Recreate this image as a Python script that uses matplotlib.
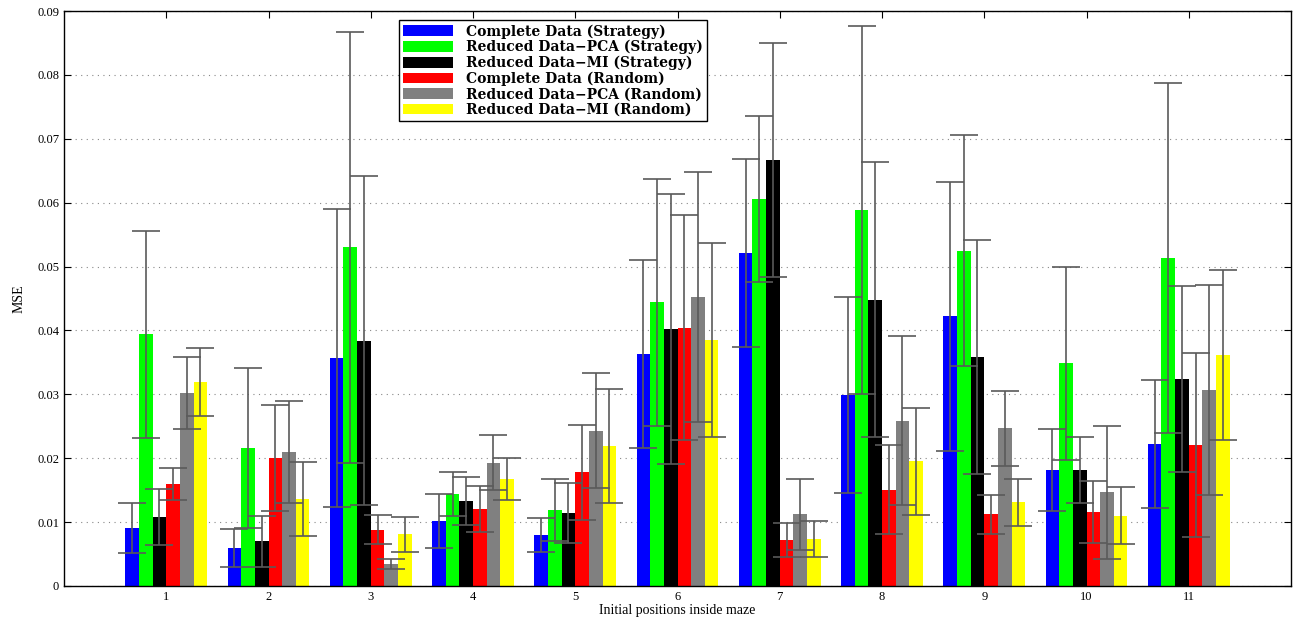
import numpy as np
import matplotlib
matplotlib.use("Agg")
import matplotlib.pyplot as plt

# initial positions (groups)
positions = [1, 2, 3, 4, 5, 6, 7, 8, 9, 10, 11]

series_names = ["Complete Data (Strategy)", "Reduced Data\u2212PCA (Strategy)",
                "Reduced Data\u2212MI (Strategy)", "Complete Data (Random)",
                "Reduced Data\u2212PCA (Random)", "Reduced Data\u2212MI (Random)"]
series_colors = ["#0000ff", "#00ff00", "#000000", "#ff0000", "#808080", "#ffff00"]

# mean MSE per series
complete_strategy = [0.0091, 0.0059, 0.0357, 0.0102, 0.0080, 0.0363, 0.0521, 0.0299, 0.0422, 0.0182, 0.0222]
pca_strategy      = [0.0394, 0.0216, 0.0530, 0.0144, 0.0119, 0.0444, 0.0606, 0.0588, 0.0525, 0.0349, 0.0513]
mi_strategy       = [0.0108, 0.0070, 0.0384, 0.0133, 0.0115, 0.0402, 0.0667, 0.0448, 0.0359, 0.0182, 0.0324]
complete_random   = [0.0160, 0.0200, 0.0088, 0.0120, 0.0178, 0.0404, 0.0072, 0.0151, 0.0112, 0.0116, 0.0221]
pca_random        = [0.0302, 0.0210, 0.0034, 0.0193, 0.0243, 0.0452, 0.0112, 0.0259, 0.0247, 0.0147, 0.0307]
mi_random         = [0.0319, 0.0136, 0.0081, 0.0168, 0.0219, 0.0385, 0.0074, 0.0195, 0.0131, 0.0110, 0.0362]

# error bar half-lengths
complete_strategy_err = [0.0039, 0.0030, 0.0233, 0.0042, 0.0027, 0.0147, 0.0147, 0.0154, 0.0210, 0.0064, 0.0100]
pca_strategy_err      = [0.0162, 0.0125, 0.0337, 0.0034, 0.0049, 0.0193, 0.0130, 0.0288, 0.0181, 0.0151, 0.0274]
mi_strategy_err       = [0.0044, 0.0040, 0.0257, 0.0038, 0.0047, 0.0211, 0.0183, 0.0215, 0.0183, 0.0052, 0.0145]
complete_random_err   = [0.0025, 0.0083, 0.0023, 0.0036, 0.0074, 0.0176, 0.0026, 0.0070, 0.0031, 0.0049, 0.0144]
pca_random_err        = [0.0057, 0.0080, 0.0008, 0.0043, 0.0090, 0.0196, 0.0056, 0.0132, 0.0059, 0.0104, 0.0164]
mi_random_err         = [0.0053, 0.0058, 0.0027, 0.0033, 0.0089, 0.0152, 0.0028, 0.0084, 0.0037, 0.0045, 0.0133]

means = [complete_strategy, pca_strategy, mi_strategy, complete_random, pca_random, mi_random]
errs = [complete_strategy_err, pca_strategy_err, mi_strategy_err,
        complete_random_err, pca_random_err, mi_random_err]

serif = ["Liberation Serif", "DejaVu Serif"]
plt.rcParams["font.family"] = serif

fig = plt.figure(figsize=(13, 6.17), dpi=100)
ax = fig.add_axes([64 / 1300, 31 / 617, 1227 / 1300, 575 / 617])

x = np.array(positions, dtype=float)
width = 0.8 / 6
for i in range(6):
    xs = x + (i - 2.5) * width
    ax.bar(xs, means[i], width=width, color=series_colors[i], label=series_names[i],
           linewidth=0, zorder=2)
    ax.errorbar(xs, means[i], yerr=errs[i], fmt="none", ecolor="#5a5a5a",
                elinewidth=1.2, capsize=10, capthick=1.2, zorder=3)

ax.set_xlim(0, 12)
ax.set_ylim(0, 0.09)
ax.set_xticks(positions)
ax.set_yticks(np.arange(0, 0.0901, 0.01))
ax.set_yticklabels(["0"] + ["%.2f" % v for v in np.arange(0.01, 0.0901, 0.01)])
ax.tick_params(direction="in", top=True, right=True, labelsize=9, length=5)
ax.yaxis.grid(True, linestyle=(0, (1, 4)), color="#888888", linewidth=0.8, zorder=0)
ax.set_axisbelow(True)
for s in ax.spines.values():
    s.set_linewidth(1.0)

ax.set_xlabel("Initial positions inside maze", fontsize=10, labelpad=1)
ax.set_ylabel("MSE", fontsize=10, labelpad=8)

leg = ax.legend(loc="upper left", bbox_to_anchor=((399 - 64) / 1227, (586 - 20) / 575),
                borderaxespad=0,
                prop={"family": "DejaVu Serif", "weight": "bold", "size": 10},
                handlelength=3.6, handleheight=0.8, labelspacing=0.1,
                borderpad=0.3, handletextpad=0.9, fancybox=False,
                edgecolor="black", framealpha=1)
leg.get_frame().set_linewidth(1.0)

fig.savefig("out.png", dpi=100)
